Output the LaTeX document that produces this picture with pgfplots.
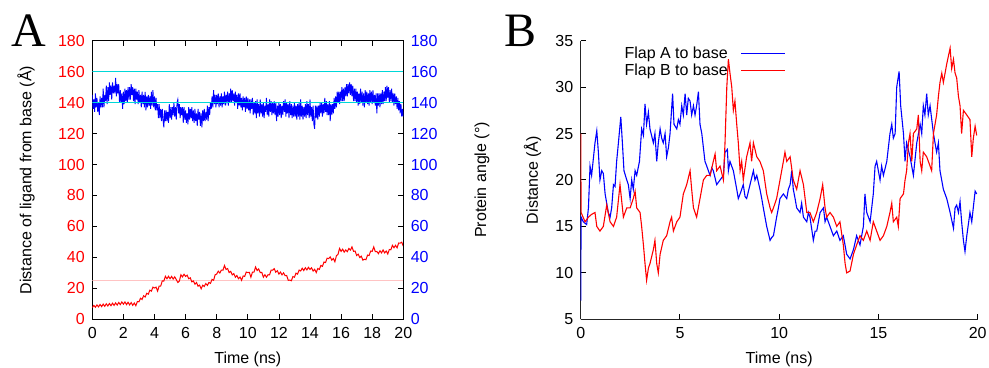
\documentclass[border=0pt]{standalone}
\usepackage{pgfplots}
\pgfplotsset{compat=1.18}
\usepackage{fontspec}
\setmainfont{Liberation Sans}
\newfontfamily\tnr{Liberation Serif}
\definecolor{pk}{RGB}{255,195,195}
\definecolor{cy}{RGB}{0,215,215}
\newcommand{\fs}{\fontsize{16bp}{19bp}\selectfont}
\pgfplotsset{
  common/.style={
    anchor=south west, scale only axis,
    xmin=0, xmax=20,
    /pgf/number format/assume math mode=true,
    tick label style={font=\fs},
    label style={font=\fs},
    major tick length=5bp,
    tick align=inside,
  }
}
\begin{document}
\begin{tikzpicture}
\path[use as bounding box] (0,0) rectangle (989bp,368bp);
\node[font=\fontsize{48bp}{48bp}\selectfont\tnr] at (29bp,337bp) {A};
\node[font=\fontsize{48bp}{48bp}\selectfont\tnr] at (521bp,337bp) {B};
% ---------- Panel A, left axis ----------
\begin{axis}[common,
  at={(92.3bp,48.7bp)}, width=311bp, height=278.6bp,
  ymin=0, ymax=180,
  xtick={0,2,...,20}, ytick={0,20,...,180},
  xtick pos=both, ytick pos=both, yticklabel pos=left,
  yticklabel style={text=red, xshift=-4bp},
  xticklabel style={yshift=-5bp},
  axis line style={line width=0.8bp},
  every tick/.style={black, line width=0.8bp},
  xlabel={Time (ns)}, ylabel={Distance of ligand from base (Å)},
  every axis x label/.style={at={(rel axis cs:0.5,-0.144)}, anchor=center, font=\fs},
  every axis y label/.style={at={(rel axis cs:-0.213,0.5)}, rotate=90, anchor=center, font=\fs},
]
\addplot[pk, line width=1bp] coordinates {(0,25)(20,25)};
\addplot[red, line width=1bp] coordinates {
(0.0,7.5)(0.1,9)(0.2,7.8)(0.3,9.3)(0.4,8)(0.5,9.6)(0.6,8.2)(0.7,9.8)(0.8,8.4)(0.9,10)
(1.0,8.6)(1.1,10.2)(1.2,8.8)(1.3,10.4)(1.4,9)(1.5,10.6)(1.6,9.2)(1.7,10.9)(1.8,9.5)(1.9,11.2)
(2.0,9.8)(2.1,11.2)(2.2,9.5)(2.3,11)(2.4,9.3)(2.5,10.8)(2.6,9)(2.7,10.5)(2.8,8.8)(2.9,11.5)
(3.0,11.3)(3.1,13.6)(3.2,12.8)(3.3,15.2)(3.4,14.4)(3.5,16.8)(3.6,16.2)(3.7,18.8)(3.8,18.2)(3.9,20.8)
(4.0,20.2)(4.1,20.8)(4.2,18.2)(4.3,21.5)(4.4,21.5)(4.5,24.8)(4.6,24.7)(4.7,27.8)(4.8,26.2)(4.9,27.8)
(5.0,26.2)(5.1,27.7)(5.2,26)(5.3,27.4)(5.4,25.7)(5.5,23.8)(5.6,24.7)(5.7,28.8)(5.8,27.4)(5.9,29.1)
(6.0,27.7)(6.1,28.5)(6.2,26.2)(6.3,26.8)(6.4,24.2)(6.5,24.8)(6.6,22.7)(6.7,23.8)(6.8,21.4)(6.9,22.1)
(7.0,19.7)(7.1,22)(7.2,21.2)(7.3,23.1)(7.4,21.9)(7.5,23.8)(7.6,23.2)(7.7,25.8)(7.8,25.2)(7.9,28.8)
(8.0,29.2)(8.1,31.1)(8.2,29.9)(8.3,31.8)(8.4,31.7)(8.5,34.8)(8.6,32.2)(8.7,32.8)(8.8,30.2)(8.9,31)
(9.0,28.7)(9.1,29.5)(9.2,27.2)(9.3,28.3)(9.4,26.2)(9.5,27.3)(9.6,25.2)(9.7,28)(9.8,27.7)(9.9,30.5)
(10.0,30.2)(10.1,30.3)(10.2,27.2)(10.3,30.5)(10.4,30.5)(10.5,33.8)(10.6,31.5)(10.7,32.5)(10.8,30.2)(10.9,30.3)
(11.0,27.2)(11.1,28.8)(11.2,27.2)(11.3,28.8)(11.4,28.7)(11.5,31.8)(11.6,31.7)(11.7,32.7)(11.8,30.4)(11.9,31.4)
(12.0,29.2)(12.1,30.5)(12.2,28.7)(12.3,30)(12.4,28.2)(12.5,28.3)(12.6,25.2)(12.7,25.3)(12.8,24.9)(12.9,27.6)
(13.0,27.2)(13.1,29.8)(13.2,29.2)(13.3,31.8)(13.4,31.2)(13.5,33)(13.6,31.5)(13.7,33.3)(13.8,31.9)(13.9,33.6)
(14.0,32.2)(14.1,33.3)(14.2,31.2)(14.3,32.3)(14.4,30.2)(14.5,32.8)(14.6,32.2)(14.7,34.8)(14.8,34.2)(14.9,37)
(15.0,36.7)(15.1,39.5)(15.2,39.2)(15.3,40.3)(15.4,38.2)(15.5,39.3)(15.6,37.2)(15.7,41.1)(15.8,41.9)(15.9,45.8)
(16.0,43.9)(16.1,45.3)(16.2,43.4)(16.3,44.8)(16.4,43.7)(16.5,45.8)(16.6,44.7)(16.7,46.8)(16.8,43.9)(16.9,44.1)
(17.0,41.2)(17.1,42.1)(17.2,39.9)(17.3,40.8)(17.4,38.2)(17.5,38.8)(17.6,38.5)(17.7,41.5)(17.8,41.2)(17.9,44.1)
(18.0,43.9)(18.1,46.8)(18.2,43.7)(18.3,43.8)(18.4,42.4)(18.5,44.3)(18.6,42.9)(18.7,44.8)(18.8,42.9)(18.9,44.1)
(19.0,42.2)(19.1,45.1)(19.2,44.9)(19.3,47.8)(19.4,46.2)(19.5,47.8)(19.6,46.2)(19.7,49.3)(19.8,49.2)(19.9,49.8)
(20.0,47.2)};
\end{axis}
% ---------- Panel A, right axis ----------
\begin{axis}[common,
  at={(92.3bp,48.7bp)}, width=311bp, height=278.6bp,
  ymin=0, ymax=180,
  hide x axis, axis y line*=right,
  ytick={0,20,...,180},
  yticklabel style={text=blue, xshift=4bp},
  major tick length=0pt,
  axis line style={line width=0.8bp},
  ylabel={Protein angle (°)},
  every axis y label/.style={at={(rel axis cs:1.253,0.5)}, rotate=90, anchor=center, font=\fs},
]
\addplot[blue, line width=0.9bp] coordinates {
(0.00,145)(0.05,136)(0.10,142)(0.15,134)(0.20,146)(0.25,137)(0.30,143)(0.35,134)(0.40,140)(0.45,132)
(0.50,144)(0.55,137)(0.60,143)(0.65,137)(0.70,149)(0.75,137)(0.80,145)(0.85,141)(0.90,151)(0.95,139)
(1.00,150)(1.05,141)(1.10,153)(1.15,145)(1.20,151)(1.25,142)(1.30,153)(1.35,146)(1.40,151)(1.45,146)
(1.50,156)(1.55,144)(1.60,152)(1.65,146)(1.70,152)(1.75,140)(1.80,148)(1.85,140)(1.90,146)(1.95,136)
(2.00,147)(2.05,139)(2.10,149)(2.15,141)(2.20,148)(2.25,140)(2.30,150)(2.35,142)(2.40,150)(2.45,142)
(2.50,152)(2.55,145)(2.60,150)(2.65,141)(2.70,149)(2.75,139)(2.80,149)(2.85,142)(2.90,147)(2.95,139)
(3.00,148)(3.05,140)(3.10,145)(3.15,137)(3.20,147)(3.25,139)(3.30,145)(3.35,137)(3.40,147)(3.45,135)
(3.50,144)(3.55,137)(3.60,145)(3.65,138)(3.70,144)(3.75,136)(3.80,147)(3.85,138)(3.90,148)(3.95,137)
(4.00,144)(4.05,135)(4.10,143)(4.15,135)(4.20,139)(4.25,130)(4.30,139)(4.35,130)(4.40,136)(4.45,128)
(4.50,136)(4.55,129)(4.60,124)(4.65,135)(4.70,128)(4.75,135)(4.80,128)(4.85,134)(4.90,127)(4.95,139)
(5.00,130)(5.05,137)(5.10,129)(5.15,137)(5.20,132)(5.25,140)(5.30,131)(5.35,137)(5.40,129)(5.45,140)
(5.50,142)(5.55,133)(5.60,139)(5.65,130)(5.70,137)(5.75,132)(5.80,137)(5.85,127)(5.90,137)(5.95,129)
(6.00,135)(6.05,127)(6.10,133)(6.15,126)(6.20,137)(6.25,129)(6.30,136)(6.35,130)(6.40,137)(6.45,128)
(6.50,135)(6.55,127)(6.60,136)(6.65,128)(6.70,133)(6.75,125)(6.80,136)(6.85,129)(6.90,134)(6.95,125)
(7.00,133)(7.05,124)(7.10,135)(7.15,128)(7.20,136)(7.25,128)(7.30,134)(7.35,129)(7.40,138)(7.45,128)
(7.50,137)(7.55,132)(7.60,140)(7.65,136)(7.70,144)(7.75,137)(7.80,148)(7.85,139)(7.90,145)(7.95,137)
(8.00,145)(8.05,139)(8.10,146)(8.15,137)(8.20,144)(8.25,138)(8.30,146)(8.35,137)(8.40,144)(8.45,139)
(8.50,147)(8.55,138)(8.60,145)(8.65,141)(8.70,147)(8.75,138)(8.80,146)(8.85,140)(8.90,149)(8.95,140)
(9.00,148)(9.05,141)(9.10,146)(9.15,138)(9.20,147)(9.25,140)(9.30,145)(9.35,136)(9.40,146)(9.45,138)
(9.50,146)(9.55,137)(9.60,143)(9.65,135)(9.70,144)(9.75,137)(9.80,143)(9.85,134)(9.90,144)(9.95,136)
(10.00,143)(10.05,135)(10.10,142)(10.15,133)(10.20,142)(10.25,136)(10.30,143)(10.35,132)(10.40,140)(10.45,133)
(10.50,141)(10.55,130)(10.60,142)(10.65,133)(10.70,139)(10.75,131)(10.80,142)(10.85,133)(10.90,139)(10.95,131)
(11.00,140)(11.05,130)(11.10,138)(11.15,134)(11.20,143)(11.25,132)(11.30,139)(11.35,131)(11.40,142)(11.45,134)
(11.50,141)(11.55,132)(11.60,140)(11.65,133)(11.70,141)(11.75,132)(11.80,140)(11.85,128)(11.90,138)(11.95,131)
(12.00,140)(12.05,132)(12.10,139)(12.15,130)(12.20,138)(12.25,132)(12.30,141)(12.35,134)(12.40,142)(12.45,131)
(12.50,140)(12.55,133)(12.60,139)(12.65,130)(12.70,141)(12.75,132)(12.80,139)(12.85,130)(12.90,138)(12.95,131)
(13.00,140)(13.05,131)(13.10,138)(13.15,129)(13.20,139)(13.25,131)(13.30,140)(13.35,129)(13.40,142)(13.45,131)
(13.50,138)(13.55,129)(13.60,137)(13.65,131)(13.70,139)(13.75,130)(13.80,141)(13.85,132)(13.90,139)(13.95,130)
(14.00,142)(14.05,131)(14.10,137)(14.15,128)(14.20,138)(14.25,126)(14.30,123)(14.35,138)(14.40,130)(14.45,138)
(14.50,129)(14.55,138)(14.60,131)(14.65,140)(14.70,133)(14.75,140)(14.80,131)(14.85,139)(14.90,133)(14.95,143)
(15.00,134)(15.05,141)(15.10,132)(15.15,139)(15.20,132)(15.25,141)(15.30,128)(15.35,139)(15.40,132)(15.45,139)
(15.50,133)(15.55,143)(15.60,136)(15.65,144)(15.70,137)(15.75,147)(15.80,140)(15.85,147)(15.90,139)(15.95,147)
(16.00,141)(16.05,150)(16.10,141)(16.15,149)(16.20,141)(16.25,150)(16.30,144)(16.35,152)(16.40,144)(16.45,152)
(16.50,146)(16.55,153)(16.60,145)(16.65,152)(16.70,144)(16.75,151)(16.80,141)(16.85,149)(16.90,141)(16.95,149)
(17.00,140)(17.05,147)(17.10,138)(17.15,146)(17.20,139)(17.25,149)(17.30,140)(17.35,147)(17.40,138)(17.45,146)
(17.50,137)(17.55,148)(17.60,140)(17.65,147)(17.70,139)(17.75,146)(17.80,138)(17.85,148)(17.90,140)(17.95,147)
(18.00,139)(18.05,148)(18.10,140)(18.15,145)(18.20,138)(18.25,146)(18.30,133)(18.35,146)(18.40,138)(18.45,146)
(18.50,137)(18.55,146)(18.60,139)(18.65,148)(18.70,139)(18.75,147)(18.80,141)(18.85,150)(18.90,141)(18.95,151)
(19.00,143)(19.05,150)(19.10,140)(19.15,148)(19.20,141)(19.25,149)(19.30,140)(19.35,146)(19.40,138)(19.45,146)
(19.50,139)(19.55,144)(19.60,136)(19.65,143)(19.70,135)(19.75,141)(19.80,133)(19.85,139)(19.90,131)(19.95,136)
(20.00,131)};
\addplot[cy, line width=1bp] coordinates {(0,140)(20,140)};
\addplot[cy, line width=1bp] coordinates {(0,160)(20,160)};
\end{axis}
% ---------- Panel B ----------
\begin{axis}[common,
  at={(580.7bp,48.7bp)}, width=397bp, height=278.6bp,
  ymin=5, ymax=35,
  xtick={0,5,...,20}, ytick={5,10,...,35},
  axis x line*=bottom, axis y line*=left,
  axis line style={-, line width=1bp, black!85},
  every tick/.style={black, line width=1bp},
  yticklabel style={xshift=-4bp},
  xticklabel style={yshift=-5bp},
  xlabel={Time (ns)}, ylabel={Distance (Å)},
  every axis x label/.style={at={(rel axis cs:0.5,-0.144)}, anchor=center, font=\fs},
  every axis y label/.style={at={(rel axis cs:-0.121,0.5)}, rotate=90, anchor=center, font=\fs},
  legend plot pos=right,
  legend cell align=right,
  legend image code/.code={\path (0bp,0bp); \draw[#1, line width=1bp] (12bp,0bp) -- (56bp,0bp);},
  legend style={draw=none, fill=none, font=\fs, at={(rel axis cs:0.517,0.985)}, anchor=north east,
    inner sep=0bp, row sep=0bp,
    nodes={inner sep=1bp, text height=12bp, text depth=3bp}},
]
\addplot[blue, line width=1.1bp] coordinates {
(0.00,7)(0.02,16)(0.13,15.5)(0.30,15.2)(0.39,17)(0.47,21.5)(0.55,20.5)(0.72,24)(0.81,25.3)(0.89,23)
(0.97,20)(1.06,21)(1.14,20.7)(1.23,18.5)(1.31,17.5)(1.39,16.5)(1.48,16)(1.56,17)(1.65,19.5)(1.73,19.3)
(1.81,22)(1.90,24)(2.02,26.8)(2.10,24)(2.18,21)(2.32,20)(2.40,19.5)(2.49,18)(2.57,20)(2.65,19)
(2.74,21)(2.82,20.5)(2.96,22)(3.07,25.5)(3.16,24.8)(3.24,28.2)(3.32,26)(3.41,27.3)(3.49,25.5)(3.66,24)
(3.74,25)(3.83,22)(3.91,24)(4.00,25.5)(4.08,24.5)(4.16,24)(4.25,25)(4.33,22.5)(4.42,23.5)(4.50,25)
(4.63,29.3)(4.70,26)(4.84,25.5)(4.92,26.5)(5.00,26)(5.09,28)(5.17,27)(5.26,29.3)(5.34,27)(5.42,28.8)
(5.51,28.5)(5.59,27)(5.68,28)(5.76,27)(5.84,28)(5.93,29.5)(6.01,26)(6.10,25)(6.18,23.5)(6.26,22)
(6.35,21.5)(6.43,21)(6.52,20.5)(6.60,21.3)(6.68,21)(6.85,19.5)(7.02,20)(7.19,20.5)(7.27,23)(7.39,23.3)
(7.44,21)(7.52,22)(7.69,21)(7.86,19)(7.94,18)(8.03,18.5)(8.19,19.5)(8.28,18.2)(8.36,18)(8.53,19.5)
(8.70,21)(8.78,20)(8.87,20.5)(9.03,19)(9.12,18)(9.20,17)(9.37,15)(9.54,13.5)(9.62,13.8)(9.71,14)
(9.87,16)(9.96,17)(10.04,18)(10.21,18.5)(10.38,18)(10.46,19)(10.55,19.5)(10.63,21)(10.71,19)(10.80,18)
(10.88,17)(11.05,16.5)(11.13,17.5)(11.22,16)(11.39,15.5)(11.47,16.5)(11.55,16)(11.72,13.5)(11.81,14.5)(11.89,14.5)
(12.06,16.5)(12.23,17)(12.31,15.5)(12.39,16)(12.56,15)(12.73,14)(12.90,14.5)(13.06,13.5)(13.23,14)(13.40,12)
(13.57,11.5)(13.74,12.5)(13.90,14)(14.07,13)(14.24,15)(14.32,18.5)(14.41,16.5)(14.58,15.5)(14.74,18.5)(14.83,21.5)
(14.91,22)(15.08,20)(15.16,21.5)(15.25,20.5)(15.42,22)(15.58,25)(15.67,26)(15.75,24.5)(15.84,25)(15.92,30)
(16.04,31.7)(16.12,28)(16.26,25)(16.34,22)(16.42,24)(16.59,22.5)(16.76,20.5)(16.93,24)(17.10,26)(17.18,25)
(17.26,28)(17.34,27)(17.43,29.3)(17.51,27)(17.60,28)(17.77,25)(17.93,23)(18.02,24)(18.10,21)(18.27,19)
(18.44,18)(18.61,16.5)(18.78,14.8)(18.86,17)(18.94,17.3)(19.03,16.5)(19.11,17.7)(19.19,15.5)(19.28,13.5)(19.36,12.3)
(19.45,14)(19.61,16.5)(19.70,15.5)(19.87,18.8)(19.95,18.5)};
\addlegendentry{Flap A to base}
\addplot[red, line width=1.1bp] coordinates {
(0.00,25)(0.02,16.5)(0.22,15.5)(0.39,16)(0.55,16.3)(0.72,16.5)(0.81,15)(0.97,14.5)(1.14,15)(1.31,17.3)
(1.48,15.5)(1.65,15)(1.81,16)(1.98,19.5)(2.15,16)(2.32,17)(2.49,17)(2.65,18)(2.74,18.8)(2.82,17)
(2.99,16.5)(3.07,15)(3.16,13)(3.24,11)(3.32,9.2)(3.41,10.5)(3.49,11)(3.66,12.5)(3.74,13.5)(3.83,11)
(3.91,10)(4.00,12)(4.16,13.5)(4.33,14)(4.50,15.5)(4.58,16)(4.67,14.5)(4.84,15.5)(5.00,16)(5.17,18.5)
(5.34,19.5)(5.51,21)(5.59,19)(5.68,17)(5.84,16)(6.01,18)(6.18,20)(6.35,20.5)(6.52,20.5)(6.68,22)
(6.77,22.8)(6.85,21)(7.02,21.5)(7.19,20)(7.27,24)(7.36,30)(7.44,33)(7.52,31.5)(7.61,30)(7.69,27.5)
(7.77,28.5)(7.86,26)(7.94,24)(8.03,21)(8.11,22)(8.19,20)(8.36,22.5)(8.53,24)(8.61,22)(8.70,24)
(8.87,22.5)(9.03,22)(9.20,21)(9.37,18.5)(9.54,17)(9.62,16.5)(9.71,17)(9.87,18)(10.04,20)(10.21,22)
(10.29,23)(10.38,22)(10.55,22.5)(10.71,20)(10.88,19)(11.05,21)(11.22,19.5)(11.39,16.5)(11.55,16.5)(11.72,15.5)
(11.89,16.5)(12.06,18)(12.19,19.5)(12.31,17)(12.39,16)(12.56,16.5)(12.73,16)(12.90,15)(13.06,15.5)(13.23,13)
(13.32,11)(13.40,10)(13.57,10.2)(13.74,12)(13.90,13)(14.07,14)(14.24,13.5)(14.41,14.5)(14.58,13.5)(14.74,15.5)
(14.91,14.5)(15.08,13.5)(15.25,14)(15.42,15)(15.58,16.5)(15.67,17.5)(15.75,15.5)(15.92,16)(16.00,15)(16.09,18)
(16.26,18.5)(16.34,20)(16.42,21)(16.51,24)(16.59,25)(16.68,22)(16.76,25)(16.93,25.5)(17.01,27)(17.10,22)
(17.18,21)(17.26,23)(17.43,22.5)(17.60,21.5)(17.68,21)(17.77,25)(17.85,26)(17.93,27)(18.02,29)(18.10,30.5)
(18.19,31.5)(18.27,30.5)(18.44,32.5)(18.61,34.2)(18.69,32)(18.78,33)(18.86,31.5)(18.94,31)(19.03,29)(19.11,28)
(19.19,25)(19.28,27.5)(19.45,27)(19.61,26.5)(19.70,22.5)(19.78,24.5)(19.87,25.8)(19.95,24.8)};
\addlegendentry{Flap B to base}
\end{axis}
\end{tikzpicture}
\end{document}
